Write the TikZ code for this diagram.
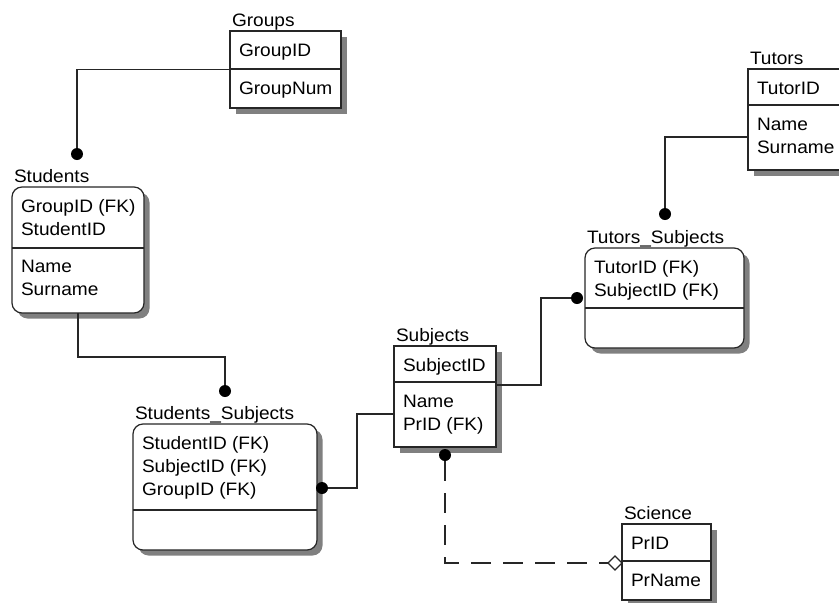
\documentclass[tikz,border=0pt]{standalone}
\usepackage{fontspec}
\setmainfont{Liberation Sans}[FakeStretch=1.06]
\usetikzlibrary{shadows,shapes.geometric}

% One entity: style, name, left, top, right, bottom, divider, title
\newcommand\erentity[8]{%
  \node[#1, minimum width={#5-#3}, minimum height={#6-#4}] (#2) at (#3,#4) {};
  \draw[rule] (#3,#7) -- (#5,#7);
  \node[etitle] (#2-title) at (#3+2,#4-4.5) {#8};
}

\begin{document}
\begin{tikzpicture}[x=1pt, y=-1pt,
  every node/.style={font=\fontsize{18}{20}\selectfont, inner sep=0pt, outer sep=0pt},
  rule/.style={line width=1.2pt, draw=black!85},
  entity/.style={rule, fill=white, anchor=north west,
    drop shadow={shadow xshift=5.5pt, shadow yshift=-5.5pt, fill=black!50, opacity=1}},
  dependent/.style={entity, rounded corners=10pt},
  etitle/.style={anchor=base west, text=black},
  attr/.style={anchor=base west, text=black},
  link/.style={line width=1.2pt, draw=black!85},
  optional/.style={link, dash pattern=on 20pt off 12pt},
  many/.style={circle, fill=black, minimum size=12pt},
  zeroone/.style={diamond, draw=black!85, line width=1.2pt, fill=white, minimum width=14pt, minimum height=14pt}
]
\path[use as bounding box] (0,0) rectangle (839,603);
\clip (0,0) rectangle (839,603);

% entities
\erentity{entity}{groups}{230}{31}{341}{108}{69}{Groups}
\node[attr] (groups-a1) at (239,56) {GroupID};
\node[attr] (groups-a2) at (239,94) {GroupNum};

\erentity{dependent}{students}{12}{187}{144}{313}{248}{Students}
\node[attr] (students-a1) at (21,212) {GroupID (FK)};
\node[attr] (students-a2) at (21,235) {StudentID};
\node[attr] (students-a3) at (21,272) {Name};
\node[attr] (students-a4) at (21,295) {Surname};

\erentity{entity}{tutors}{748}{69}{850}{170}{105}{Tutors}
\node[attr] (tutors-a1) at (757,94) {TutorID};
\node[attr] (tutors-a2) at (757,130) {Name};
\node[attr] (tutors-a3) at (757,153) {Surname};

\erentity{dependent}{tutsub}{585}{248}{744}{348}{308}{Tutors\_Subjects}
\node[attr] (tutsub-a1) at (594,273) {TutorID (FK)};
\node[attr] (tutsub-a2) at (594,296) {SubjectID (FK)};

\erentity{entity}{subjects}{394}{346}{496}{447}{382}{Subjects}
\node[attr] (subjects-a1) at (403,371) {SubjectID};
\node[attr] (subjects-a2) at (403,407) {Name};
\node[attr] (subjects-a3) at (403,430) {PrID (FK)};

\erentity{dependent}{stusub}{133}{424}{317}{550}{510}{Students\_Subjects}
\node[attr] (stusub-a1) at (142,449) {StudentID (FK)};
\node[attr] (stusub-a2) at (142,472) {SubjectID (FK)};
\node[attr] (stusub-a3) at (142,495) {GroupID (FK)};

\erentity{entity}{science}{622}{524}{711}{600}{561}{Science}
\node[attr] (science-a1) at (631,549) {PrID};
\node[attr] (science-a2) at (631,586) {PrName};

% relationship ends
\node[many] (d1) at (77,154) {};
\node[many] (d2) at (665,214) {};
\node[many] (d3) at (225,391) {};
\node[many] (d4) at (322,488) {};
\node[many] (d5) at (577,298) {};
\node[many] (d6) at (445,455) {};
\node[zeroone] (z6) at (615,563) {};

% bend points
\coordinate (k2) at (665,137);
\coordinate (k3) at (225,357);
\coordinate (k4) at (357,414);
\coordinate (k5a) at (541,385);
\coordinate (k5b) at (541,298);

% relationships
\draw[link] (groups.west) -| (d1);
\draw[link] (tutors.west |- k2) -| (d2);
\draw[link] (students.south) |- (k3) -- (d3);
\draw[link] (d4) -| (k4) -- (subjects.west |- k4);
\draw[link] (subjects.east |- k5a) -| (k5b) -- (d5);
\draw[optional] (d6) |- (z6);
\end{tikzpicture}
\end{document}
